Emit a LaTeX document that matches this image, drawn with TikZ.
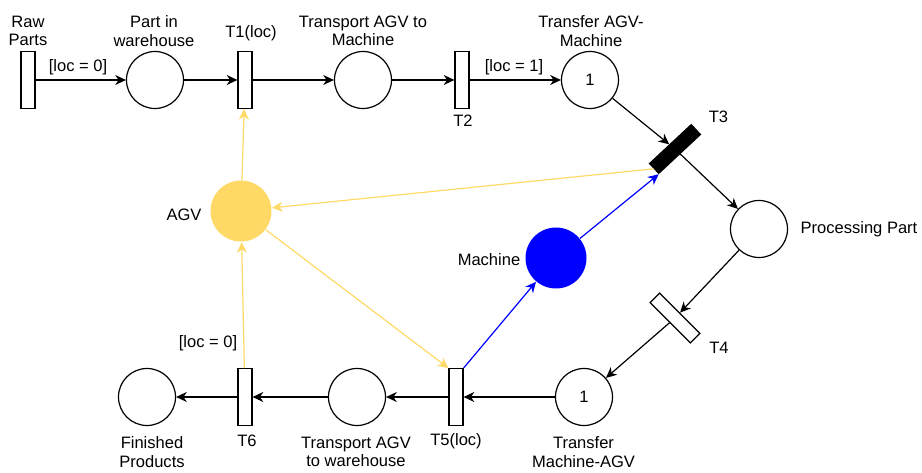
\documentclass[tikz,border=0pt]{standalone}
\usepackage{fontspec}
\setmainfont{Liberation Sans}
\usepackage{tikz}
\usetikzlibrary{arrows.meta}
\definecolor{AgvYellow}{RGB}{255,217,102}
\definecolor{MachBlue}{RGB}{0,0,255}

\begin{document}
\begin{tikzpicture}[x=0.75pt, y=-0.75pt,
    every node/.style={font=\fontsize{12.4}{13.8}\selectfont, align=center, inner sep=0pt},
    placenode/.style={draw, circle, line width=0.9pt, minimum size=42.75pt},
    transnode/.style={draw, rectangle, line width=0.9pt, fill=white, minimum width=10.5pt, minimum height=42.5pt},
    diagtrans/.style={draw, rectangle, line width=0.9pt, minimum width=42.75pt, minimum height=10.1pt},
    arc/.style={-{Stealth[length=8pt, width=7.5pt, inset=2.5pt]}, line width=0.9pt}]
    \useasboundingbox (0,0) rectangle (922,473);

    % places and transitions
    \node[transnode] (raw) at (28,80) {};
    \node[placenode] (whouse) at (155,80) {};
    \node[transnode] (t1) at (245,80) {};
    \node[placenode] (tomach) at (363,80) {};
    \node[transnode] (t2) at (462,80) {};
    \node[placenode] (agvmach) at (590,80) {1};
    \node[diagtrans, fill=black, rotate=43] (t3) at (675,149) {};
    \node[placenode] (proc) at (759,229) {};
    \node[diagtrans, fill=white, rotate=-45] (t4) at (675,318) {};
    \node[placenode] (machagv) at (584,397) {1};
    \node[transnode] (t5) at (456,397) {};
    \node[placenode] (towh) at (357,397) {};
    \node[transnode] (t6) at (245,397) {};
    \node[placenode] (finished) at (147,397) {};
    \node[placenode, draw=none, fill=AgvYellow, minimum size=45.75pt] (agv) at (241,211) {};
    \node[placenode, draw=none, fill=MachBlue, minimum size=45.75pt] (machine) at (556,258) {};

    % labels
    \node (lraw) at (28,31) {Raw\\Parts};
    \node (lwhouse) at (154,31) {Part in\\warehouse};
    \node (lt1) at (251,33.5) {T1(loc)};
    \node (ltomach) at (363,31) {Transport AGV to\\Machine};
    \node (lt2) at (463,121) {T2};
    \node (lagvmach) at (591,31) {Transfer AGV-\\Machine};
    \node (lt3) at (718.5,117) {T3};
    \node (lproc) at (859,229) {Processing Part};
    \node (lt4) at (719,348) {T4};
    \node (lmachagv) at (583.5,452) {Transfer\\Machine-AGV};
    \node (lt5) at (456,441) {T5(loc)};
    \node (ltowh) at (356,452) {Transport AGV\\to warehouse};
    \node (lt6) at (247,441) {T6};
    \node (lfinished) at (152,452) {Finished\\Products};
    \node (lagv) at (184,215) {AGV};
    \node (lmachine) at (489,259.5) {Machine};
    \node (lloc0) at (78,67) {[loc = 0]};
    \node (lloc1) at (514,67.5) {[loc = 1]};
    \node (lloc0b) at (208,343) {[loc = 0]};

    % part flow
    \draw[arc] (raw) -- (whouse);
    \draw[arc] (whouse) -- (t1);
    \draw[arc] (t1) -- (tomach);
    \draw[arc] (tomach) -- (t2);
    \draw[arc] (t2) -- (agvmach);
    \draw[arc] (agvmach) -- (t3);
    \draw[arc] (t3) -- (proc);
    \draw[arc] (proc) -- (t4);
    \draw[arc] (t4) -- (machagv);
    \draw[arc] (machagv) -- (t5);
    \draw[arc] (t5) -- (towh);
    \draw[arc] (towh) -- (t6);
    \draw[arc] (t6) -- (finished);

    % AGV arcs
    \draw[arc, AgvYellow] (agv) -- (t1);
    \draw[arc, AgvYellow] (t3.west) -- (agv);
    \draw[arc, AgvYellow] (agv) -- (t5.north west);
    \draw[arc, AgvYellow] (t6) -- (agv);

    % machine arcs
    \draw[arc, MachBlue] (machine) -- (t3.south west);
    \draw[arc, MachBlue] (t5.north east) -- (machine);
\end{tikzpicture}
\end{document}
